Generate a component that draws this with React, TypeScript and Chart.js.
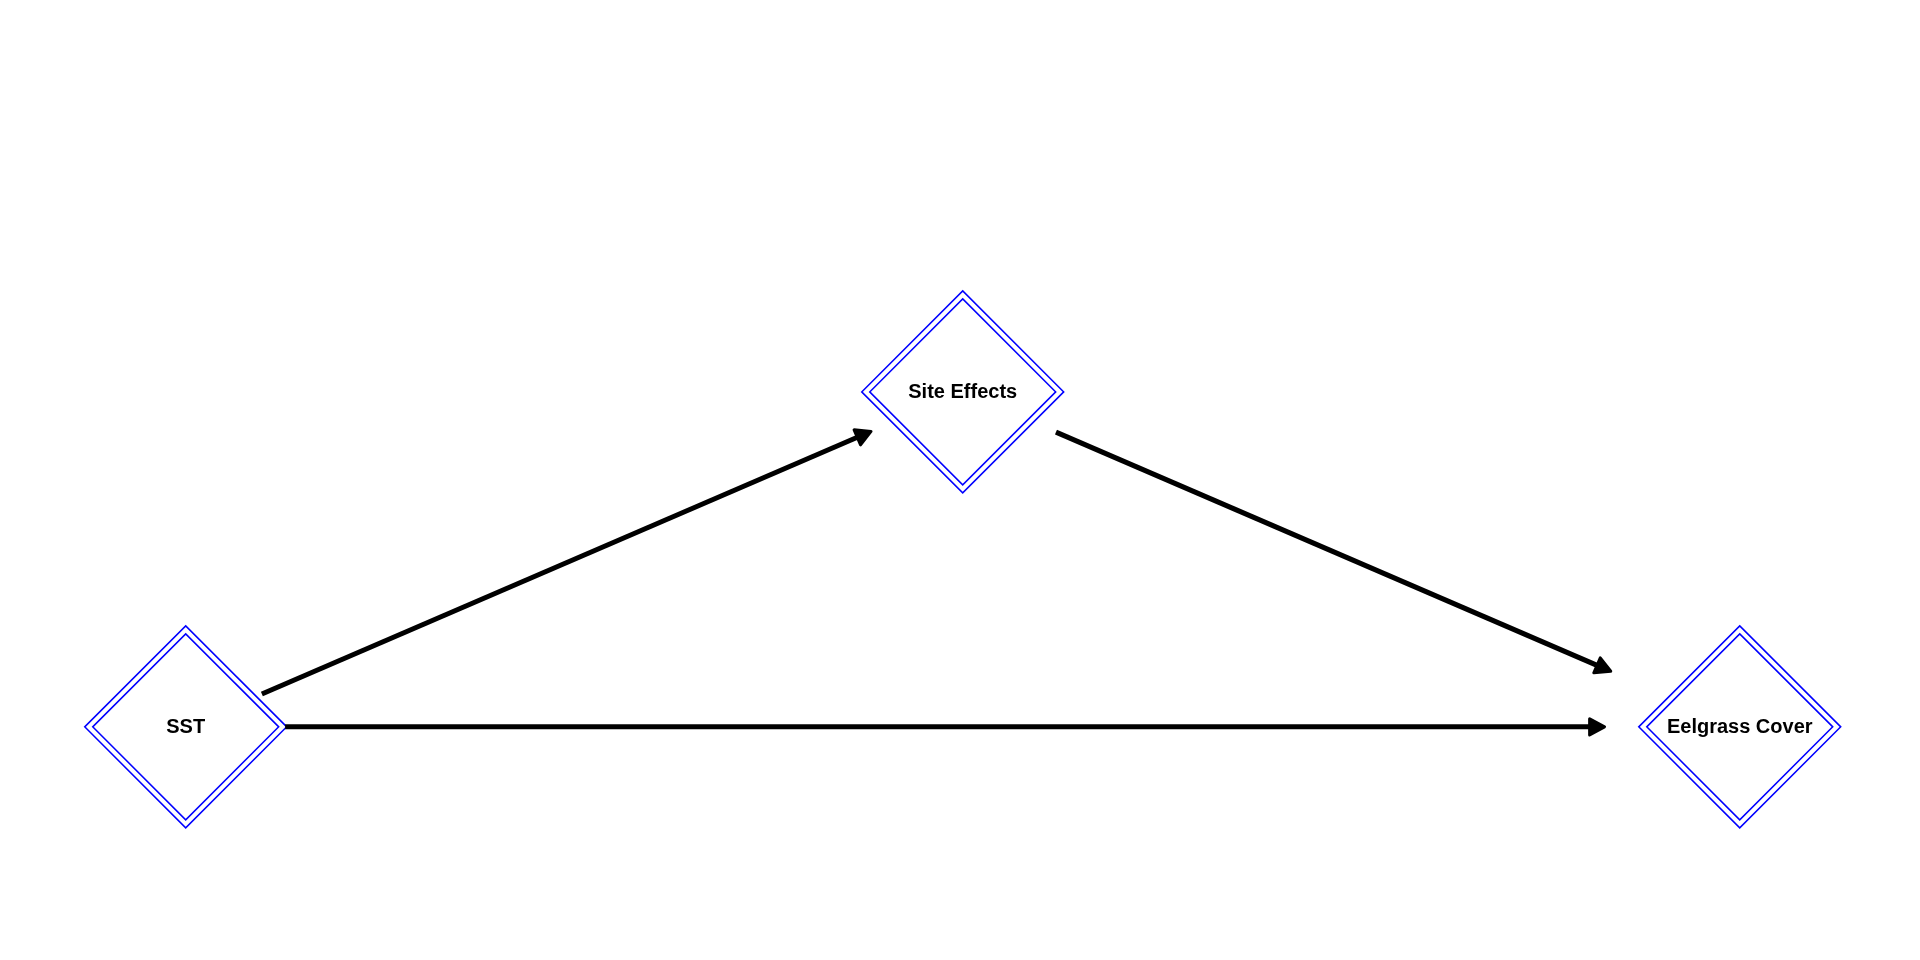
import React, { useEffect, useRef } from "react";
import { Chart, registerables } from "chart.js";
Chart.register(...registerables);

const nodeNames = ["SST", "Site Effects", "Eelgrass Cover"];
const nodeX = [0, 1, 2];
const nodeY = [0, 1, 0];
const edgeFrom = [0, 0, 1];
const edgeTo = [1, 2, 2];
const edgeStart = [0.098, 0.064, 0.12];
const edgeEnd = [0.882, 0.913, 0.834];

const dagPlugin = {
  id: "dag",
  afterDatasetsDraw(chart: any) {
    const ctx = chart.ctx;
    const xs = chart.scales.x, ys = chart.scales.y;
    const px = (i: number) => xs.getPixelForValue(nodeX[i]);
    const py = (i: number) => ys.getPixelForValue(nodeY[i]);
    ctx.save();
    // diamonds
    nodeNames.forEach((_, i) => {
      const cx = px(i), cy = py(i);
      ctx.strokeStyle = "#0000ff";
      ctx.lineWidth = 1.5;
      [101, 93].forEach((r) => {
        ctx.beginPath();
        ctx.moveTo(cx, cy - r);
        ctx.lineTo(cx + r, cy);
        ctx.lineTo(cx, cy + r);
        ctx.lineTo(cx - r, cy);
        ctx.closePath();
        ctx.stroke();
      });
    });
    // edges
    edgeFrom.forEach((f, k) => {
      const t = edgeTo[k];
      const x0 = px(f), y0 = py(f), x1 = px(t), y1 = py(t);
      const sx = x0 + (x1 - x0) * edgeStart[k], sy = y0 + (y1 - y0) * edgeStart[k];
      const ex = x0 + (x1 - x0) * edgeEnd[k], ey = y0 + (y1 - y0) * edgeEnd[k];
      const a = Math.atan2(ey - sy, ex - sx);
      const h = 17;
      ctx.strokeStyle = "#000";
      ctx.fillStyle = "#000";
      ctx.lineWidth = 5;
      ctx.lineCap = "butt";
      ctx.beginPath();
      ctx.moveTo(sx, sy);
      ctx.lineTo(ex - Math.cos(a) * 6, ey - Math.sin(a) * 6);
      ctx.stroke();
      ctx.lineJoin = "round";
      ctx.lineWidth = 3;
      ctx.beginPath();
      ctx.moveTo(ex, ey);
      ctx.lineTo(ex - h * Math.cos(a - 0.5), ey - h * Math.sin(a - 0.5));
      ctx.lineTo(ex - h * Math.cos(a + 0.5), ey - h * Math.sin(a + 0.5));
      ctx.closePath();
      ctx.fill();
      ctx.stroke();
    });
    // labels
    ctx.fillStyle = "#000";
    ctx.font = "bold 20px 'Liberation Sans', Arial, sans-serif";
    ctx.textAlign = "center";
    ctx.textBaseline = "middle";
    nodeNames.forEach((n, i) => ctx.fillText(n, px(i), py(i) + 1));
    ctx.restore();
  },
};

export default function App() {
  const ref = useRef<HTMLCanvasElement>(null);
  useEffect(() => {
    document.body.style.margin = "0";
    const chart = new Chart(ref.current!, {
      type: "scatter",
      data: {
        datasets: [
          {
            data: nodeX.map((x, i) => ({ x, y: nodeY[i] })),
            pointRadius: 0,
          },
        ],
      },
      options: {
        animation: false,
        responsive: false,
        layout: { padding: 0 },
        plugins: { legend: { display: false }, tooltip: { enabled: false } },
        scales: {
          x: { type: "linear", display: false, min: -0.239, max: 2.232 },
          y: { type: "linear", display: false, min: -0.696, max: 2.17 },
        },
      },
      plugins: [dagPlugin],
    });
    return () => chart.destroy();
  }, []);
  return <canvas ref={ref} width={1920} height={960} style={{ display: "block", background: "#fff" }} />;
}
